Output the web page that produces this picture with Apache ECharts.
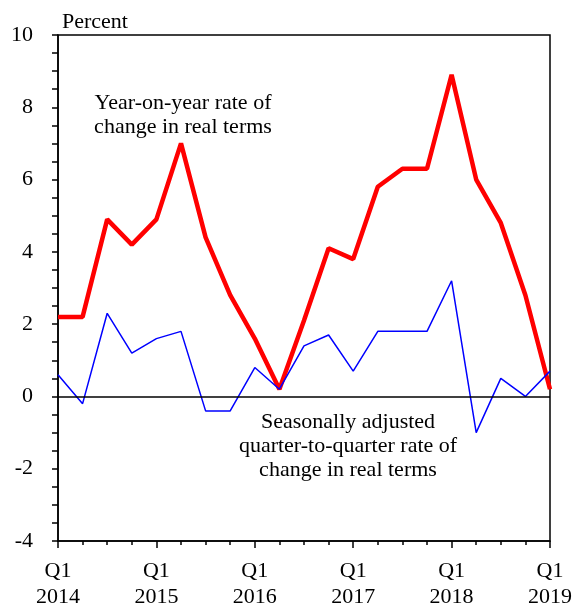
<!DOCTYPE html>
<html>
<head>
<meta charset="utf-8">
<script src="https://cdn.jsdelivr.net/npm/echarts@6/dist/echarts.min.js"></script>
<style>
  html, body { margin: 0; padding: 0; background: #fff; }
  #chart { width: 576px; height: 606px; }
</style>
</head>
<body>
<div id="chart"></div>
<script>
// quarters Q1 2014 .. Q1 2019
const quarters = [
  '2014Q1', '2014Q2', '2014Q3', '2014Q4',
  '2015Q1', '2015Q2', '2015Q3', '2015Q4',
  '2016Q1', '2016Q2', '2016Q3', '2016Q4',
  '2017Q1', '2017Q2', '2017Q3', '2017Q4',
  '2018Q1', '2018Q2', '2018Q3', '2018Q4',
  '2019Q1'
]
const yearOnYear = [
  2.2, 2.2, 4.9, 4.2,
  4.9, 7.0, 4.4, 2.8,
  1.6, 0.2, 2.1, 4.1,
  3.8, 5.8, 6.3, 6.3,
  8.9, 6.0, 4.8, 2.8,
  0.2
]
const quarterOnQuarter = [
  0.6, -0.2, 2.3, 1.2,
  1.6, 1.8, -0.4, -0.4,
  0.8, 0.2, 1.4, 1.7,
  0.7, 1.8, 1.8, 1.8,
  3.2, -1.0, 0.5, 0.0,
  0.7
]
const yTicks = [-4, -2, 0, 2, 4, 6, 8, 10]

const font = '"Liberation Serif", "Times New Roman", serif'

const toPoints = (values) => values.map((v, i) => [i, v])

const chart = echarts.init(document.getElementById('chart'), null, { renderer: 'canvas' })

const option = {
  animation: false,
  backgroundColor: '#fff',
  grid: {
    left: 58,
    right: 26,
    top: 35,
    bottom: 65,
    outerBoundsMode: 'none',
    containLabel: false,
    show: true,
    borderColor: '#000',
    borderWidth: 1.5,
    backgroundColor: 'transparent'
  },
  xAxis: {
    type: 'value',
    min: 0,
    max: quarters.length - 1,
    interval: 4,
    axisLine: { show: true, onZero: false, lineStyle: { color: '#000', width: 1.5 } },
    axisTick: { show: true, inside: false, length: 7, lineStyle: { color: '#000', width: 1.5 } },
    minorTick: { show: true, splitNumber: 4, length: 4, lineStyle: { color: '#000', width: 1.5 } },
    splitLine: { show: false },
    axisLabel: {
      color: '#000',
      fontFamily: font,
      fontSize: 22,
      lineHeight: 26,
      margin: 17,
      formatter: (v) => {
        const q = quarters[v]
        return q ? q.slice(4) + '\n' + q.slice(0, 4) : ''
      }
    }
  },
  yAxis: {
    type: 'value',
    min: yTicks[0],
    max: yTicks[yTicks.length - 1],
    interval: 2,
    axisLine: { show: true, onZero: false, lineStyle: { color: '#000', width: 1.5 } },
    axisTick: { show: true, inside: false, length: 6, lineStyle: { color: '#000', width: 1.5 } },
    minorTick: { show: true, splitNumber: 4, length: 6, lineStyle: { color: '#000', width: 1.5 } },
    splitLine: { show: false },
    axisLabel: {
      color: '#000',
      fontFamily: font,
      fontSize: 22,
      margin: 25
    }
  },
  graphic: [
    {
      type: 'text', left: 62, top: 11,
      style: { text: 'Percent', fill: '#000', font: '22px ' + font }
    },
    {
      type: 'text', x: 183, y: 91,
      style: {
        text: 'Year-on-year rate of\nchange in real terms',
        fill: '#000', font: '22px ' + font, align: 'center', lineHeight: 24
      }
    },
    {
      type: 'text', x: 348, y: 410,
      style: {
        text: 'Seasonally adjusted\nquarter-to-quarter rate of\nchange in real terms',
        fill: '#000', font: '22px ' + font, align: 'center', lineHeight: 24
      }
    }
  ],
  series: [
    {
      name: 'Quarter-to-quarter',
      type: 'line',
      data: toPoints(quarterOnQuarter),
      showSymbol: false,
      lineStyle: { color: '#0000ff', width: 1.5 },
      z: 3,
      markLine: {
        silent: true,
        symbol: 'none',
        label: { show: false },
        lineStyle: { color: '#000', width: 1.5, type: 'solid' },
        data: [{ yAxis: 0 }]
      }
    },
    {
      name: 'Year-on-year',
      type: 'line',
      data: toPoints(yearOnYear),
      showSymbol: false,
      lineStyle: { color: '#ff0000', width: 4.5 },
      z: 2
    }
  ]
}

chart.setOption(option)
</script>
</body>
</html>
